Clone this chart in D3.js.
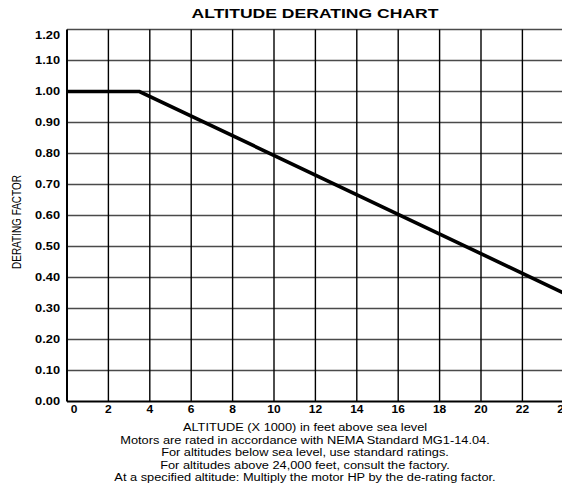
<!DOCTYPE html>
<html><head><meta charset="utf-8">
<script src="https://cdn.jsdelivr.net/npm/d3@7"></script>
<style>html,body{margin:0;padding:0;background:#fff;}svg{display:block;font-family:"Liberation Sans",Arial,sans-serif;}</style>
</head><body>
<div id="chart"></div>
<script>
// ---- data ----
const title = "ALTITUDE DERATING CHART";
const yTicks = [0.00,0.10,0.20,0.30,0.40,0.50,0.60,0.70,0.80,0.90,1.00,1.10,1.20];
const xTicks = [0,2,4,6,8,10,12,14,16,18,20,22,24];
const altitude = [0, 3.5, 24];          // x 1000 ft
const factor   = [1.00, 1.00, 0.35];    // derating factor
const yTitle = "DERATING FACTOR";
const notes = [
  "ALTITUDE (X 1000) in feet above sea level",
  "Motors are rated in accordance with NEMA Standard MG1-14.04.",
  "For altitudes below sea level, use standard ratings.",
  "For altitudes above 24,000 feet, consult the factory.",
  "At a specified altitude: Multiply the motor HP by the de-rating factor."
];

const W = 562, H = 485;
const SX = 1.28; // horizontal stretch of glyphs in the reference
const svg = d3.select("#chart").append("svg").attr("width", W).attr("height", H);

const x = d3.scaleLinear().domain([0, 24]).range([67, 563.8]);
const y = d3.scaleLinear().domain([0, 1.2]).range([401.5, 29.5]);

function stext(g, str, px, py, opts) {
  return g.append("text")
    .attr("transform", `translate(${px},${py}) scale(${opts.sx || SX},1)` + (opts.rot ? ` rotate(${opts.rot})` : ""))
    .attr("text-anchor", opts.anchor || "middle")
    .attr("font-size", opts.size)
    .attr("font-weight", opts.bold ? "bold" : "normal")
    .attr("fill", "#000")
    .text(str);
}

// horizontal grid
svg.append("g").selectAll("line").data(yTicks).join("line")
  .attr("x1", x(0)).attr("x2", W)
  .attr("y1", d => y(d)).attr("y2", d => y(d))
  .attr("stroke", d => d === 0 ? "#000" : "#4a4a4a")
  .attr("stroke-width", d => d === 0 ? 2 : 1.4);

// vertical grid
svg.append("g").selectAll("line").data(xTicks).join("line")
  .attr("x1", d => x(d)).attr("x2", d => x(d))
  .attr("y1", y(1.2)).attr("y2", y(0))
  .attr("stroke", "#000")
  .attr("stroke-width", d => d === 0 ? 2 : 1.4);

// data line
const line = d3.line().x((d, i) => x(altitude[i])).y(d => y(d));
svg.append("path").datum(factor)
  .attr("d", line)
  .attr("fill", "none").attr("stroke", "#000").attr("stroke-width", 3.6)
  .attr("stroke-linejoin", "miter");

// y tick labels
const gy = svg.append("g");
yTicks.forEach(v => {
  const py = Math.max(y(v), 35.5) + 3.6;
  stext(gy, v.toFixed(2), 60, py, {anchor: "end", size: 10, bold: true});
});

// x tick labels
const gx = svg.append("g");
xTicks.forEach(v => {
  const px = x(v) + (v === 0 ? 7 : 0);
  stext(gx, String(v), px, 412.5, {size: 10, bold: true, sx: 1.2});
});

// title
stext(svg, title, 315, 17.5, {size: 13, bold: true, sx: 1.35});

// y axis title
stext(svg, yTitle, 20.5, 222, {size: 10, rot: -90, sx: 1.3});

// notes
const noteY = [431, 443.5, 456, 468.5, 481];
notes.forEach((t, i) => stext(svg, t, 305, noteY[i], {size: 10}));
</script>
</body></html>
